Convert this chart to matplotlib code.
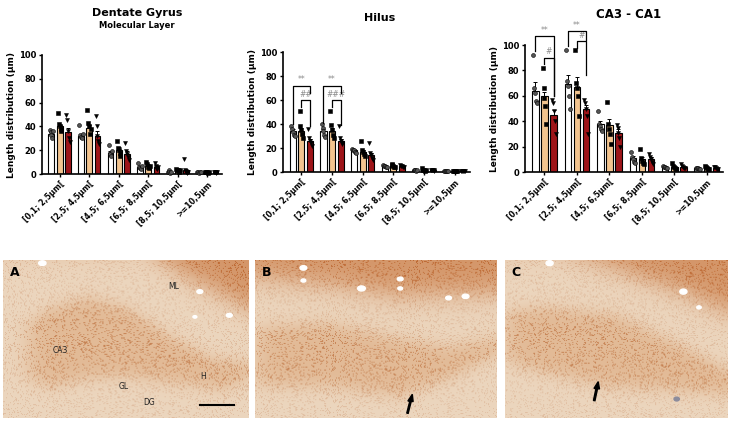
import numpy as np
import matplotlib
matplotlib.use("Agg")
from matplotlib import pyplot as plt
from matplotlib.patches import Circle, FancyArrow

plt.rcParams['font.family'] = ['DejaVu Sans']

bins = ['[0,1; 2,5µm[', '[2,5; 4,5µm[', '[4,5; 6,5µm[', '[6,5; 8,5µm[', '[8,5; 10,5µm[', '>=10,5µm']

# means, sem, individual values per group (white / orange / red)
dg_mean = [[34, 32, 18, 6, 2, 2], [40, 39, 20, 7, 3, 2], [35, 32, 17, 6, 3, 2]]
dg_sem = [[1, 1, 1.5, 0.8, 0.3, 0.2], [1.5, 2, 2.5, 1, 0.5, 0.2], [4, 4, 2, 1.5, 1.5, 0.3]]
dg_pts = [
    [[37, 35, 33, 30, 36], [41, 33, 31, 30, 34], [24, 18, 17, 15, 19], [9, 6, 5, 4, 7], [2, 3, 2, 1, 2], [2, 2, 1, 2, 2]],
    [[51, 42, 40, 36, 38], [54, 43, 40, 34, 38], [28, 22, 20, 15, 18], [10, 8, 6, 5, 7], [4, 3, 3, 2, 3], [2, 2, 2, 1, 2]],
    [[50, 45, 36, 30, 27], [49, 40, 32, 28, 25], [26, 19, 17, 14, 12], [9, 7, 5, 4, 6], [13, 3, 2, 1, 2], [2, 2, 2, 1, 2]],
]

hil_mean = [[34, 34, 18, 5, 2, 1], [34, 34, 17, 5, 2, 1], [26, 26, 14, 5, 2, 1]]
hil_sem = [[2, 2, 1, 0.5, 0.3, 0.2], [2.5, 2.5, 1.5, 0.7, 0.3, 0.2], [1.5, 1.5, 1.5, 0.5, 0.3, 0.2]]
hil_pts = [
    [[38, 36, 33, 31, 30], [40, 37, 34, 31, 29], [19, 18, 18, 17, 16], [6, 5, 5, 4, 4], [2, 2, 2, 1, 2], [1, 1, 1, 1, 1]],
    [[51, 38, 35, 32, 28], [51, 39, 35, 31, 28], [26, 18, 17, 15, 13], [7, 6, 5, 4, 4], [3, 2, 2, 1, 2], [1, 1, 1, 1, 1]],
    [[36, 28, 26, 24, 22], [38, 28, 26, 24, 23], [24, 16, 14, 12, 10], [6, 5, 5, 4, 4], [2, 2, 2, 1, 2], [1, 1, 1, 1, 1]],
]

ca_mean = [[64, 69, 38, 11, 4, 3], [60, 67, 37, 10, 4, 3], [45, 50, 31, 10, 4, 3]]
ca_sem = [[7, 7, 2, 1.5, 0.5, 0.3], [3, 8, 5, 2, 0.8, 0.5], [4, 3, 3, 1.5, 0.5, 0.3]]
ca_pts = [
    [[92, 66, 62, 56, 54], [96, 72, 68, 60, 50], [48, 38, 36, 34, 32], [16, 12, 10, 8, 7], [5, 4, 4, 3, 3], [3, 3, 3, 2, 2]],
    [[82, 66, 58, 52, 38], [96, 70, 66, 60, 44], [55, 38, 34, 30, 22], [18, 11, 9, 7, 6], [7, 5, 4, 3, 2], [5, 4, 3, 2, 2]],
    [[57, 54, 48, 40, 30], [57, 54, 50, 44, 30], [37, 35, 31, 27, 20], [14, 12, 10, 8, 6], [6, 5, 4, 3, 3], [4, 4, 3, 2, 2]],
]

# brackets: (bin, group_from, group_to, top, left_leg, right_leg, label)
hil_br = [(0, 0, 2, 72, 40, 66, '**'), (0, 1, 2, 60, 54, 38, '##'),
          (1, 0, 2, 72, 41, 66, '**'), (1, 1, 2, 60, 54, 39, '###')]
ca_br = [(0, 0, 2, 107, 95, 60, '**'), (0, 1, 2, 90, 85, 60, '#'),
         (1, 0, 2, 111, 99, 104, '**'), (1, 1, 2, 103, 98, 76, '#')]

colors = ['white', '#f2c48f', '#9e1519']
markers = ['o', 's', 'v']
mfc = ['#555555', 'black', 'black']
offs = [-0.28, 0, 0.28]
W, H = 736, 426

fig = plt.figure(figsize=(W / 100, H / 100), dpi=100)


def px_ax(x0, y0, x1, y1):
    return fig.add_axes([x0 / W, 1 - y1 / H, (x1 - x0) / W, (y1 - y0) / H])


def bar_chart(ax, mean, sem, pts, brackets):
    x = np.arange(len(bins))
    jit = [-0.06, -0.03, 0, 0.03, 0.06]
    for g in range(3):
        xs = x + offs[g]
        ax.bar(xs, mean[g], 0.2, color=colors[g], edgecolor='black', linewidth=0.8, zorder=2)
        ax.errorbar(xs, mean[g], yerr=[[0] * len(x), sem[g]], fmt='none', ecolor='black',
                    elinewidth=0.7, capsize=1.5, capthick=0.7, zorder=3)
        for i in range(len(x)):
            ax.scatter(xs[i] + np.array(jit), pts[g][i], marker=markers[g], s=8,
                       c=mfc[g], edgecolors='black', linewidths=0.4, zorder=4, clip_on=False)
    for b, g1, g2, top, l1, l2, lab in brackets:
        xa, xb = b + offs[g1], b + offs[g2]
        ax.plot([xa, xa, xb, xb], [l1, top, top, l2], color='black', lw=0.9, clip_on=False, zorder=5)
        ax.text((xa + xb) / 2, top + 1.0, lab, ha='center', va='bottom', fontsize=5.5,
                color='#8a8a8a', clip_on=False)
    ax.set_xlim(-0.6, 5.5)
    ax.set_ylim(0, 100)
    ax.set_yticks([0, 20, 40, 60, 80, 100])
    ax.set_xticks(x)
    ax.set_xticklabels(bins, rotation=45, ha='right', rotation_mode='anchor', fontsize=5.6, fontweight='bold')
    for t in ax.get_yticklabels():
        t.set_fontweight('bold')
        t.set_fontsize(6)
    ax.set_ylabel('Length distribution (µm)', fontsize=6.5, fontweight='bold', labelpad=2)
    ax.spines['top'].set_visible(False)
    ax.spines['right'].set_visible(False)
    ax.spines['left'].set_linewidth(1.2)
    ax.spines['bottom'].set_linewidth(1.2)
    ax.tick_params(width=1.0, length=2.5, pad=1.5)


ax1 = px_ax(42, 55, 222, 174)
bar_chart(ax1, dg_mean, dg_sem, dg_pts, [])
ax2 = px_ax(283, 52, 470, 172)
bar_chart(ax2, hil_mean, hil_sem, hil_pts, hil_br)
ax3 = px_ax(525, 45, 723, 172)
bar_chart(ax3, ca_mean, ca_sem, ca_pts, ca_br)

fig.text(137 / W, 1 - 13 / H, 'Dentate Gyrus', ha='center', va='center', fontsize=8, fontweight='bold')
fig.text(137 / W, 1 - 25 / H, 'Molecular Layer', ha='center', va='center', fontsize=6, fontweight='bold')
fig.text(380 / W, 1 - 18 / H, 'Hilus', ha='center', va='center', fontsize=8, fontweight='bold')
fig.text(629 / W, 1 - 14 / H, 'CA3 - CA1', ha='center', va='center', fontsize=8.5, fontweight='bold')


# ---- stained sections (schematic) ----
def section(ax, up_u, up_v, lo_u, lo_v, ml_u, ml_v, band_start=0.0, seed_shift=0.0):
    h, w = 160, 245
    u = np.linspace(0, 1, w)[None, :]
    v = np.linspace(0, 1, h)[:, None]
    base = np.array([236, 214, 190], float)
    band_c = np.array([226, 186, 150], float)
    ml_c = np.array([212, 150, 105], float)
    up = np.interp(u, up_u, up_v)
    lo = np.interp(u, lo_u, lo_v)
    ml = np.interp(u, ml_u, ml_v)
    s = 0.03
    band = 1 / (1 + np.exp(-(v - up) / s)) * 1 / (1 + np.exp((v - lo) / s))
    band = band * 1 / (1 + np.exp(-(u - band_start) / 0.03))
    mlm = 1 / (1 + np.exp((v - ml) / 0.05))
    img = base[None, None, :] * np.ones((h, w, 1))
    img = img * (1 - band[..., None]) + band_c * band[..., None]
    img = img * (1 - mlm[..., None]) + ml_c * mlm[..., None]
    ii, jj = np.mgrid[0:h, 0:w]
    hsh = np.sin(ii * 12.9898 + jj * 78.233 + seed_shift) * 43758.5453
    hsh = hsh - np.floor(hsh)
    dots = (hsh > 0.86).astype(float) * (25 + 30 * band + 20 * mlm)
    img = img - dots[..., None] * np.array([0.5, 1.0, 1.2])
    img = np.clip(img, 0, 255) / 255
    ax.imshow(img, extent=(0, 1, 1, 0), aspect='auto', interpolation='bilinear')
    ax.set_xlim(0, 1)
    ax.set_ylim(1, 0)
    ax.axis('off')


axA = px_ax(3, 260, 249, 418)
section(axA, [0.1, 0.2, 0.35, 0.5, 0.7, 0.85, 1.0], [0.38, 0.3, 0.24, 0.3, 0.5, 0.62, 0.66],
        [0, 0.2, 0.35, 0.5, 0.7, 0.9, 1], [0.75, 0.8, 0.75, 0.74, 0.78, 0.82, 0.75],
        [0.55, 0.75, 0.9, 1.0], [-0.1, 0.1, 0.22, 0.3], band_start=0.1)
axA.text(0.03, 0.08, 'A', fontsize=9, fontweight='bold', va='center')
for lab, lu, lv in [('ML', 0.67, 0.17), ('CA3', 0.2, 0.57), ('H', 0.8, 0.74), ('GL', 0.47, 0.8), ('DG', 0.57, 0.9)]:
    axA.text(lu, lv, lab, fontsize=5.5, ha='left', va='center', color='#222222')
axA.plot([0.8, 0.94], [0.92, 0.92], color='black', lw=1.5)
for cu, cv, r in [(0.8, 0.2, 0.012), (0.92, 0.35, 0.012), (0.78, 0.36, 0.008), (0.16, 0.02, 0.015)]:
    axA.add_patch(Circle((cu, cv), r, color='white'))

axB = px_ax(255, 260, 497, 418)
section(axB, [0, 0.3, 0.6, 0.8, 1.0], [0.42, 0.4, 0.5, 0.55, 0.5],
        [0, 0.3, 0.6, 0.8, 1.0], [0.8, 0.8, 0.86, 0.75, 0.6],
        [0, 0.3, 0.6, 1.0], [0.1, 0.15, 0.22, 0.2], seed_shift=1.3)
axB.text(0.03, 0.08, 'B', fontsize=9, fontweight='bold', va='center')
for cu, cv, r in [(0.2, 0.05, 0.014), (0.44, 0.18, 0.016), (0.6, 0.12, 0.012), (0.6, 0.18, 0.01),
                  (0.8, 0.24, 0.012), (0.87, 0.23, 0.014), (0.2, 0.13, 0.01)]:
    axB.add_patch(Circle((cu, cv), r, color='white'))
axB.add_patch(FancyArrow(0.63, 0.97, 0.02, -0.12, width=0.006, head_width=0.022,
                         head_length=0.045, color='black', length_includes_head=True))

axC = px_ax(505, 260, 728, 418)
section(axC, [0, 0.2, 0.5, 0.8, 1.0], [0.32, 0.3, 0.35, 0.55, 0.7],
        [0, 0.2, 0.45, 0.7, 1.0], [0.65, 0.72, 0.8, 0.82, 0.85],
        [0.2, 0.5, 0.8, 1.0], [-0.1, 0.05, 0.2, 0.32], seed_shift=2.7)
axC.text(0.03, 0.08, 'C', fontsize=9, fontweight='bold', va='center')
for cu, cv, r in [(0.2, 0.02, 0.016), (0.8, 0.2, 0.016), (0.87, 0.3, 0.01)]:
    axC.add_patch(Circle((cu, cv), r, color='white'))
axC.add_patch(Circle((0.77, 0.88), 0.012, color='#8c8c9c'))
axC.add_patch(FancyArrow(0.4, 0.89, 0.018, -0.12, width=0.007, head_width=0.025,
                         head_length=0.045, color='black', length_includes_head=True))

fig.savefig('out.png', dpi=100)
